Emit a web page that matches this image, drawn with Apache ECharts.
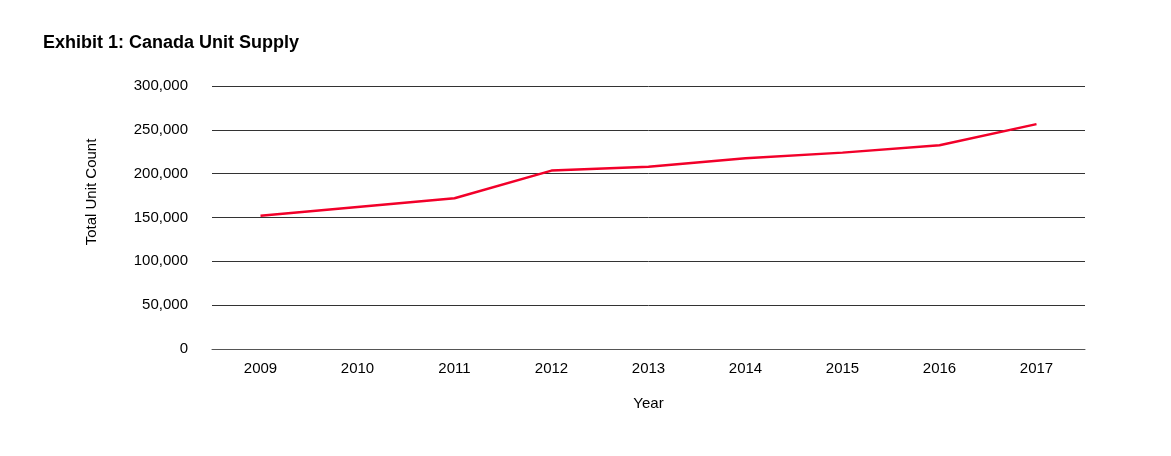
<!DOCTYPE html>
<html>
<head>
<meta charset="utf-8">
<script src="https://cdn.jsdelivr.net/npm/echarts@6/dist/echarts.min.js"></script>
<style>
html,body{margin:0;padding:0;background:#fff;}
#c{width:1171px;height:456px;}
</style>
</head>
<body>
<div id="c"></div>
<script>
const years = ['2009','2010','2011','2012','2013','2014','2015','2016','2017'];
const unitSupply = [152000, 162000, 172000, 203500, 208000, 217500, 224000, 232500, 256500];
const yTicks = [0, 50000, 100000, 150000, 200000, 250000, 300000];

const chart = echarts.init(document.getElementById('c'));
const font = '"Liberation Sans", Arial, Helvetica, sans-serif';
chart.setOption({
  animation: false,
  backgroundColor: '#fff',
  title: {
    text: 'Exhibit 1: Canada Unit Supply',
    left: 38, top: 29,
    textStyle: {fontFamily: font, fontSize: 18, fontWeight: 'bold', color: '#000'}
  },
  graphic: [{
    type: 'text',
    x: 92, y: 192,
    rotation: Math.PI / 2,
    style: {
      text: 'Total Unit Count',
      fontFamily: font, fontSize: 15, fill: '#000',
      align: 'center', verticalAlign: 'middle'
    }
  }],
  grid: {left: 212, right: 86, top: 86, bottom: 107},
  xAxis: {
    type: 'category',
    data: years,
    boundaryGap: true,
    name: 'Year',
    nameLocation: 'middle',
    nameGap: 47,
    nameTextStyle: {fontFamily: font, fontSize: 15, color: '#000'},
    axisLine: {show: true, lineStyle: {color: '#555', width: 1}},
    axisTick: {show: false},
    axisLabel: {fontFamily: font, fontSize: 15, color: '#000', margin: 12}
  },
  yAxis: {
    type: 'value',
    min: yTicks[0],
    max: yTicks[yTicks.length - 1],
    interval: 50000,
    axisLine: {show: false},
    axisTick: {show: false},
    axisLabel: {
      fontFamily: font, fontSize: 15, color: '#000', margin: 24,
      formatter: v => v.toLocaleString('en-US')
    },
    splitLine: {show: true, lineStyle: {color: '#333', width: 1}}
  },
  series: [{
    type: 'line',
    data: unitSupply,
    symbol: 'none',
    lineStyle: {color: '#f2002a', width: 2.5},
    itemStyle: {color: '#f2002a'}
  }]
});
</script>
</body>
</html>
